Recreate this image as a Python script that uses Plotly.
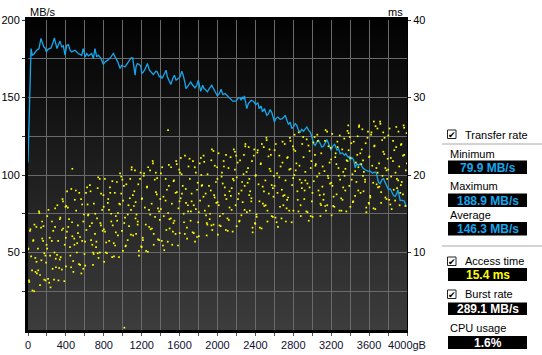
import plotly.graph_objects as go

# ---------------- data ----------------
transfer_gb = [0, 32, 45, 67, 92, 116, 137, 151, 166, 180, 193, 214, 243, 267, 278, 292, 306, 320, 338, 356,
               373, 391, 409, 426, 444, 461, 496, 531, 567, 584, 602, 620, 637, 672, 690, 707, 725, 743, 771, 795,
               813, 841, 876, 901, 919, 947, 972, 989, 1024, 1042, 1067, 1088, 1105, 1119, 1130, 1140, 1154, 1175,
               1190, 1201, 1218, 1236, 1260, 1281, 1306, 1323, 1351, 1365, 1386, 1401, 1415, 1436, 1457, 1471, 1492,
               1507, 1528, 1545, 1563, 1587, 1605, 1623, 1640, 1658, 1668, 1682, 1703, 1717, 1739, 1763, 1781, 1798,
               1809, 1823, 1844, 1858, 1879, 1893, 1914, 1939, 1957, 1975, 1999, 2020, 2038, 2056, 2080, 2098, 2115,
               2133, 2161, 2196, 2221, 2239, 2249, 2263, 2274, 2284, 2299, 2309, 2326, 2355, 2379, 2404, 2426, 2439,
               2461, 2474, 2495, 2520, 2538, 2556, 2573, 2601, 2616, 2637, 2661, 2685, 2714, 2731, 2749, 2767, 2784,
               2802, 2820, 2837, 2855, 2873, 2890, 2908, 2926, 2943, 2961, 2979, 2996, 3014, 3032, 3049, 3067, 3085,
               3102, 3120, 3138, 3155, 3173, 3191, 3200, 3215, 3236, 3250, 3260, 3277, 3295, 3319, 3340, 3355, 3376,
               3390, 3400, 3418, 3436, 3453, 3471, 3489, 3506, 3524, 3541, 3559, 3587, 3612, 3636, 3657, 3672, 3682,
               3699, 3717, 3735, 3752, 3770, 3788, 3805, 3823, 3841, 3858, 3876, 3894, 3904, 3917, 3928, 3952, 3973,
               3988, 4000]
transfer_mbs = [108, 181.6, 177.3, 178.4, 180.5, 181.6, 188.1, 186, 182.7, 182, 179.4, 181.2, 182, 186, 188.5, 184.9,
                181.6, 183.8, 186.4, 182.7, 183.3, 177.3, 183.8, 184.2, 180.5, 179.4, 180.5, 178.4, 177.3, 181.6,
                176.2, 178.4, 176.9, 178.4, 175.2, 181.6, 176.2, 177.3, 175.2, 171.3, 173, 174.1, 176.2, 178.4, 176.2,
                173, 168.7, 170.8, 169.7, 171.3, 173, 175.6, 175.6, 167.6, 164.4, 169.7, 171.9, 171.3, 170.4, 165.5,
                166.5, 168.3, 171.9, 167.6, 165.5, 164.8, 167, 166.5, 163.3, 163.9, 162.3, 164.8, 167.6, 163.3, 159.7,
                158.4, 162.3, 164.4, 161.2, 162.3, 163.3, 167, 163.9, 159, 155.8, 156.8, 159, 160.1, 157.9, 156.2,
                157.9, 161.2, 157.9, 154, 157.9, 155.8, 154.7, 153.6, 155.8, 157.9, 155.8, 153.6, 151, 152.6, 155.3,
                151.9, 152.6, 151.5, 150.4, 149.7, 147.6, 147.6, 149.7, 149.7, 148.2, 150.4, 148.9, 151, 146.1, 142.9,
                146.1, 148.2, 147.6, 145.4, 146.7, 142.9, 144.5, 140.7, 142.9, 138.5, 139.6, 142.2, 140.3, 134.2,
                136.4, 137.4, 135.9, 136.4, 138.5, 135.3, 132.5, 134.2, 129.9, 131, 133.2, 132.1, 128.8, 127.7, 129.5,
                128.2, 129.9, 131, 128.8, 127.7, 124.5, 120.2, 119.1, 121.3, 122.4, 120.2, 118, 118.7, 121.3, 122.8,
                120.2, 118, 115.9, 118.5, 119.8, 118, 115.9, 117, 113.8, 114.2, 112.7, 113.8, 111.6, 112, 109.4,
                111.2, 109.9, 104.7, 107.3, 106.2, 107.3, 105.6, 104.1, 103.4, 102.5, 102.5, 101.2, 101.9, 101.9,
                99.7, 95.4, 94.4, 97, 97.6, 95.4, 92.2, 90.5, 91.1, 88.9, 86.8, 86.2, 88.3, 90.5, 86.8, 83.6, 83.6,
                83.1, 80.3, 79.9]

access_gb_a = [47, 4, 79, 25, 90, 13, 55, 33, 68,
               108, 163, 127, 196, 141, 119, 184, 150, 172,
               286, 238, 202, 260, 216, 293, 229, 275, 253,
               322, 371, 345, 310, 388, 357, 336, 399, 364,
               447, 404, 479, 425, 490, 413, 455, 433, 468,
               508, 563, 527, 596, 541, 519, 584, 550, 572,
               686, 638, 602, 660, 616, 693, 629, 675, 653,
               722, 771, 745, 710, 788, 757, 736, 799, 764,
               847, 804, 879, 825, 890, 813, 855, 833, 868,
               908, 963, 927, 996, 941, 919, 984, 950, 972,
               1086, 1038, 1002, 1060, 1016, 1093, 1029, 1075, 1053,
               1122, 1171, 1145, 1110, 1188, 1157, 1136, 1199, 1164,
               1247, 1204, 1279, 1225, 1290, 1213, 1255, 1233, 1268,
               1308, 1363, 1327, 1396, 1341, 1319, 1384, 1350, 1372,
               1486, 1438, 1402, 1460, 1416, 1493, 1429, 1475, 1453,
               1522, 1571, 1545, 1510, 1588, 1557, 1536, 1599, 1564,
               1647, 1604, 1679, 1625, 1690, 1613, 1655, 1633, 1668,
               1708, 1763, 1727, 1796, 1741, 1719, 1784, 1750, 1772,
               1886, 1838, 1802, 1860, 1816, 1893, 1829, 1875, 1853,
               1922, 1971, 1945, 1910, 1988, 1957, 1936, 1999, 1964,
               2047, 2004, 2079, 2025, 2090, 2013, 2055, 2033, 2068,
               2108, 2163, 2127, 2196, 2141, 2119, 2184, 2150, 2172,
               2286, 2238, 2202, 2260, 2216, 2293, 2229, 2275, 2253,
               2322, 2371, 2345, 2310, 2388, 2357, 2336, 2399, 2364,
               2447, 2404, 2479, 2425, 2490, 2413, 2455, 2433, 2468,
               2508, 2563, 2527, 2596, 2541, 2519, 2584, 2550, 2572,
               2686, 2638, 2602, 2660, 2616, 2693, 2629, 2675, 2653,
               2722, 2771, 2745, 2710, 2788, 2757, 2736, 2799, 2764,
               2847, 2804, 2879, 2825, 2890, 2813, 2855, 2833, 2868,
               2908, 2963, 2927, 2996, 2941, 2919, 2984, 2950, 2972,
               3086, 3038, 3002, 3060, 3016, 3093, 3029, 3075, 3053,
               3122, 3171, 3145, 3110, 3188, 3157, 3136, 3199, 3164,
               3247, 3204, 3279, 3225, 3290, 3213, 3255, 3233, 3268,
               3308, 3363, 3327, 3396, 3341, 3319, 3384, 3350, 3372,
               3486, 3438, 3402, 3460, 3416, 3493, 3429, 3475, 3453,
               3522, 3571, 3545, 3510, 3588, 3557, 3536, 3599, 3564,
               3647, 3604, 3679, 3625, 3690, 3613, 3655, 3633, 3668,
               3708, 3763, 3727, 3796, 3741, 3719, 3784, 3750, 3772,
               3886, 3838, 3802, 3860, 3816, 3893, 3829, 3875, 3853,
               3922, 3971, 3945, 3910, 3988, 3957, 3936, 3999, 3964,
               1017, 1478, 468, 3650, 3380]
access_ms_a = [5.1, 10.5, 7.5, 13.0, 8.8, 6.2, 11.5, 9.5, 13.6,
               7.7, 13.4, 5.8, 11.0, 9.0, 15.1, 6.4, 11.8, 9.9,
               13.3, 5.5, 10.5, 7.9, 15.5, 9.2, 11.9, 6.5, 14.0,
               6.4, 13.1, 9.4, 16.1, 11.0, 7.8, 14.3, 11.9, 16.9,
               9.6, 16.0, 7.5, 13.3, 11.0, 17.9, 8.1, 14.3, 12.1,
               15.4, 7.3, 12.5, 9.8, 17.7, 11.2, 14.0, 8.4, 16.2,
               8.4, 14.9, 11.4, 17.9, 12.9, 9.8, 16.2, 13.8, 18.7,
               11.4, 17.6, 9.3, 15.0, 12.8, 19.5, 9.9, 15.9, 13.8,
               16.9, 8.8, 14.0, 11.3, 19.2, 12.7, 15.5, 9.9, 17.7,
               9.5, 16.3, 12.6, 19.4, 14.1, 10.9, 17.6, 15.1, 20.2,
               12.3, 18.8, 10.2, 16.1, 13.8, 20.7, 10.8, 17.0, 14.9,
               17.9, 9.6, 14.9, 12.2, 20.3, 13.6, 16.5, 10.7, 18.8,
               10.2, 17.0, 13.3, 20.2, 14.9, 11.6, 18.4, 15.8, 21.0,
               13.1, 19.6, 11.0, 16.9, 14.6, 21.5, 11.6, 17.8, 15.7,
               18.6, 10.3, 15.6, 12.9, 21.0, 14.3, 17.2, 11.4, 19.5,
               11.0, 17.8, 14.1, 21.0, 15.7, 12.4, 19.2, 16.6, 21.8,
               13.9, 20.3, 11.8, 17.6, 15.3, 22.2, 12.4, 18.6, 16.4,
               19.5, 11.4, 16.6, 13.9, 21.8, 15.3, 18.1, 12.5, 20.3,
               12.2, 18.7, 15.2, 21.7, 16.7, 13.6, 20.0, 17.6, 22.5,
               15.0, 21.2, 12.9, 18.6, 16.4, 23.1, 13.5, 19.5, 17.4,
               20.3, 12.3, 17.4, 14.7, 22.6, 16.1, 18.9, 13.4, 21.1,
               12.8, 19.5, 15.8, 22.5, 17.3, 14.2, 20.7, 18.3, 23.3,
               15.5, 21.9, 13.4, 19.1, 16.9, 23.7, 14.0, 20.1, 18.0,
               20.9, 12.6, 17.9, 15.2, 23.3, 16.6, 19.5, 13.7, 21.8,
               13.2, 20.0, 16.3, 23.2, 17.9, 14.6, 21.4, 18.8, 24.0,
               16.1, 22.6, 14.0, 19.9, 17.6, 24.5, 14.6, 20.8, 18.7,
               21.6, 13.3, 18.6, 15.9, 24.0, 17.3, 20.2, 14.4, 22.5,
               14.0, 20.8, 17.1, 24.0, 18.7, 15.4, 22.2, 19.6, 24.8,
               16.8, 23.3, 14.7, 20.6, 18.3, 25.2, 15.3, 21.5, 19.4,
               22.3, 14.1, 19.3, 16.6, 24.6, 18.0, 20.9, 15.2, 23.1,
               14.7, 21.4, 17.7, 24.4, 19.2, 16.1, 22.6, 20.2, 25.2,
               17.5, 23.7, 15.4, 21.1, 18.9, 25.6, 16.0, 22.0, 19.9,
               22.8, 14.8, 19.9, 17.2, 25.1, 18.6, 21.4, 15.9, 23.6,
               15.4, 21.9, 18.4, 24.9, 19.9, 16.8, 23.2, 20.8, 25.7,
               18.0, 24.3, 15.9, 21.6, 19.4, 26.2, 16.5, 22.6, 20.5,
               23.3, 15.2, 20.4, 17.7, 25.6, 19.1, 21.9, 16.3, 24.1,
               15.7, 22.4, 18.8, 25.5, 20.3, 17.1, 23.7, 21.2, 26.3,
               18.5, 24.8, 16.4, 22.1, 19.9, 26.6, 16.9, 23.0, 20.9,
               23.6, 15.6, 20.7, 18.1, 26.0, 19.5, 22.2, 16.7, 24.4,
               16.1, 22.6, 19.1, 25.6, 20.6, 17.5, 23.9, 21.5, 26.4,
               0.3, 25.8, 20.8, 26.9, 26.4]

access_gb_b = [1, 11, 21, 43, 57, 65, 77, 88, 94,
               172, 105, 138, 191, 116, 160, 127, 184, 149,
               233, 287, 212, 266, 295, 203, 252, 224, 279,
               358, 329, 396, 307, 341, 383, 318, 370, 335,
               401, 411, 421, 443, 457, 465, 477, 488, 494,
               572, 505, 538, 591, 516, 560, 527, 584, 549,
               633, 687, 612, 666, 695, 603, 652, 624, 679,
               758, 729, 796, 707, 741, 783, 718, 770, 735,
               801, 811, 821, 843, 857, 865, 877, 888, 894,
               972, 905, 938, 991, 916, 960, 927, 984, 949,
               1033, 1087, 1012, 1066, 1095, 1003, 1052, 1024, 1079,
               1158, 1129, 1196, 1107, 1141, 1183, 1118, 1170, 1135,
               1201, 1211, 1221, 1243, 1257, 1265, 1277, 1288, 1294,
               1372, 1305, 1338, 1391, 1316, 1360, 1327, 1384, 1349,
               1433, 1487, 1412, 1466, 1495, 1403, 1452, 1424, 1479,
               1558, 1529, 1596, 1507, 1541, 1583, 1518, 1570, 1535,
               1601, 1611, 1621, 1643, 1657, 1665, 1677, 1688, 1694,
               1772, 1705, 1738, 1791, 1716, 1760, 1727, 1784, 1749,
               1833, 1887, 1812, 1866, 1895, 1803, 1852, 1824, 1879,
               1958, 1929, 1996, 1907, 1941, 1983, 1918, 1970, 1935,
               2001, 2011, 2021, 2043, 2057, 2065, 2077, 2088, 2094,
               2172, 2105, 2138, 2191, 2116, 2160, 2127, 2184, 2149,
               2233, 2287, 2212, 2266, 2295, 2203, 2252, 2224, 2279,
               2358, 2329, 2396, 2307, 2341, 2383, 2318, 2370, 2335,
               2401, 2411, 2421, 2443, 2457, 2465, 2477, 2488, 2494,
               2572, 2505, 2538, 2591, 2516, 2560, 2527, 2584, 2549,
               2633, 2687, 2612, 2666, 2695, 2603, 2652, 2624, 2679,
               2758, 2729, 2796, 2707, 2741, 2783, 2718, 2770, 2735,
               2801, 2811, 2821, 2843, 2857, 2865, 2877, 2888, 2894,
               2972, 2905, 2938, 2991, 2916, 2960, 2927, 2984, 2949,
               3033, 3087, 3012, 3066, 3095, 3003, 3052, 3024, 3079,
               3158, 3129, 3196, 3107, 3141, 3183, 3118, 3170, 3135,
               3201, 3211, 3221, 3243, 3257, 3265, 3277, 3288, 3294,
               3372, 3305, 3338, 3391, 3316, 3360, 3327, 3384, 3349,
               3433, 3487, 3412, 3466, 3495, 3403, 3452, 3424, 3479,
               3558, 3529, 3596, 3507, 3541, 3583, 3518, 3570, 3535,
               3601, 3611, 3621, 3643, 3657, 3665, 3677, 3688, 3694,
               3772, 3705, 3738, 3791, 3716, 3760, 3727, 3784, 3749,
               3833, 3887, 3812, 3866, 3895, 3803, 3852, 3824, 3879,
               3958, 3929, 3996, 3907, 3941, 3983, 3918, 3970, 3935]
access_ms_b = [10.4, 6.4, 12.8, 7.7, 11.6, 5.0, 9.3, 13.3, 7.3,
               6.5, 10.5, 13.2, 8.7, 15.3, 11.5, 7.1, 9.6, 14.0,
               9.6, 15.7, 6.6, 12.8, 8.1, 14.7, 11.5, 6.1, 10.0,
               12.9, 8.0, 15.9, 9.7, 14.5, 6.3, 11.5, 16.6, 9.1,
               8.2, 12.7, 15.8, 10.7, 18.2, 13.9, 8.9, 11.8, 16.8,
               11.5, 18.0, 8.5, 14.9, 10.0, 16.9, 13.5, 7.9, 12.0,
               14.8, 10.0, 17.7, 11.6, 16.3, 8.3, 13.4, 18.4, 11.0,
               10.0, 14.4, 17.4, 12.4, 19.7, 15.5, 10.7, 13.5, 18.3,
               13.0, 19.5, 10.0, 16.4, 11.5, 18.4, 15.0, 9.4, 13.5,
               16.2, 11.2, 19.1, 12.8, 17.7, 9.4, 14.7, 19.8, 12.2,
               10.9, 15.5, 18.6, 13.4, 21.0, 16.7, 11.6, 14.5, 19.5,
               14.0, 20.6, 10.8, 17.4, 12.4, 19.5, 16.0, 10.2, 14.4,
               16.9, 11.9, 19.9, 13.6, 18.5, 10.1, 15.5, 20.6, 13.0,
               11.7, 16.3, 19.4, 14.2, 21.8, 17.5, 12.4, 15.3, 20.3,
               14.7, 21.3, 11.5, 18.1, 13.1, 20.2, 16.7, 10.9, 15.1,
               17.7, 12.7, 20.7, 14.4, 19.3, 10.9, 16.3, 21.4, 13.8,
               12.5, 17.0, 20.1, 15.0, 22.5, 18.2, 13.2, 16.1, 21.1,
               15.6, 22.1, 12.6, 19.0, 14.1, 21.0, 17.6, 12.0, 16.1,
               18.6, 13.8, 21.5, 15.4, 20.1, 12.1, 17.2, 22.2, 14.8,
               13.6, 18.0, 21.0, 16.0, 23.3, 19.1, 14.3, 17.1, 21.9,
               16.5, 22.8, 13.5, 19.8, 15.0, 21.8, 18.4, 12.9, 16.9,
               19.3, 14.4, 22.3, 16.1, 20.9, 12.7, 17.9, 23.0, 15.5,
               14.1, 18.6, 21.6, 16.5, 24.0, 19.7, 14.8, 17.6, 22.6,
               17.0, 23.6, 13.8, 20.4, 15.4, 22.5, 19.0, 13.2, 17.4,
               19.9, 14.9, 22.9, 16.6, 21.5, 13.1, 18.5, 23.6, 16.0,
               14.7, 19.3, 22.4, 17.2, 24.8, 20.5, 15.4, 18.3, 23.3,
               17.7, 24.3, 14.5, 21.1, 16.1, 23.2, 19.7, 13.9, 18.1,
               20.7, 15.7, 23.7, 17.4, 22.3, 13.9, 19.3, 24.4, 16.8,
               15.4, 20.0, 23.1, 17.9, 25.5, 21.2, 16.1, 19.0, 24.0,
               18.4, 24.9, 15.3, 21.8, 16.9, 23.8, 20.4, 14.7, 18.9,
               21.2, 16.3, 24.2, 18.0, 22.8, 14.6, 19.8, 24.9, 17.4,
               16.1, 20.5, 23.5, 18.5, 25.8, 21.6, 16.8, 19.6, 24.4,
               19.0, 25.3, 16.0, 22.3, 17.5, 24.3, 20.9, 15.4, 19.4,
               21.8, 17.0, 24.7, 18.6, 23.3, 15.3, 20.4, 25.4, 18.0,
               16.6, 21.0, 24.1, 19.1, 26.4, 22.2, 17.3, 20.1, 25.0,
               19.4, 25.9, 16.4, 22.8, 17.9, 24.8, 21.4, 15.8, 19.9,
               22.3, 17.3, 25.2, 19.0, 23.8, 15.6, 20.9, 26.0, 18.4,
               17.1, 21.5, 24.5, 19.5, 26.9, 22.7, 17.8, 20.6, 25.5,
               19.8, 26.2, 16.8, 23.2, 18.3, 25.1, 21.8, 16.2, 20.3,
               22.5, 17.7, 25.4, 19.3, 24.0, 16.0, 21.1, 26.1, 18.7]

x_tickvals = list(range(0, 4001, 200))
x_ticktext = ["0", "", "400", "", "800", "", "1200", "", "1600", "", "2000", "", "2400", "", "2800", "",
              "3200", "", "3600", "", "4000gB"]
y_tickvals = [25, 50, 75, 100, 125, 150, 175, 200]
y_ticktext = ["", "50", "", "100", "", "150", "", "200"]
y2_tickvals = [10, 20, 30, 40]
y2_ticktext = ["10", "20", "30", "40"]

stat_labels = ["Minimum", "Maximum", "Average"]
stat_values = ["79.9 MB/s", "188.9 MB/s", "146.3 MB/s"]
access_time_value = "15.4 ms"
burst_rate_value = "289.1 MB/s"
cpu_usage_value = "1.6%"

# ---------------- layout helpers ----------------
W, H = 542, 355
L, R, T, B = 28, 407, 20, 330


def px(x):
    return (x - L) / (R - L)


def py(y):
    return (B - y) / (B - T)


FONT = "Liberation Sans, Arial, sans-serif"
BLUE = "#16a6ec"

fig = go.Figure()

fig.add_trace(go.Scatter(
    x=access_gb_a + access_gb_b, y=access_ms_a + access_ms_b, yaxis="y2", mode="markers",
    marker=dict(symbol="square", size=1.7, color="#ffff00", line=dict(width=0)),
    hoverinfo="skip", showlegend=False))

fig.add_trace(go.Scatter(
    x=transfer_gb, y=transfer_mbs, mode="lines",
    line=dict(color=BLUE, width=1.3), hoverinfo="skip", showlegend=False))

shapes = []
# background gradient
n = 62
for i in range(n):
    t = i / (n - 1)
    g = int(round(2 + t * 58))
    shapes.append(dict(type="rect", xref="paper", yref="paper",
                       x0=0, x1=1, y0=1 - (i + 1) / n, y1=1 - i / n,
                       fillcolor=f"rgb({g},{g},{g})", line=dict(width=0), layer="below"))

annotations = []


def text(x, y, s, size=11, color="black", anchor="left", bold=False):
    annotations.append(dict(x=px(x), y=py(y), xref="paper", yref="paper", text=(f"<b>{s}</b>" if bold else s),
                            showarrow=False, xanchor=anchor, yanchor="middle",
                            font=dict(family=FONT, size=size, color=color)))


def box(y0, y1):
    shapes.append(dict(type="rect", xref="paper", yref="paper", x0=px(448), x1=px(527),
                       y0=py(y1), y1=py(y0), fillcolor="black", line=dict(width=0)))


def checkbox(y0):
    shapes.append(dict(type="rect", xref="paper", yref="paper", x0=px(447.5), x1=px(456),
                       y0=py(y0 + 8.5), y1=py(y0), fillcolor="white", line=dict(color="#222", width=1)))
    text(451.8, y0 + 4.6, "✔", size=9, color="black", anchor="center")


def sep(y):
    shapes.append(dict(type="line", xref="paper", yref="paper", x0=px(442), x1=px(542),
                       y0=py(y), y1=py(y), line=dict(color="#a8a8a8", width=1)))


# axis titles
text(28, 12, "MB/s")
text(405, 12, "ms", anchor="right")

# right panel
checkbox(130)
text(463, 134.5, "Transfer rate")
sep(144)
stat_y = [153.5, 186, 214.5]
box_y = [160.5, 193.5, 222]
for lab, val, ly, by in zip(stat_labels, stat_values, stat_y, box_y):
    text(448, ly, lab)
    box(by, by + 13.5)
    text(487.5, by + 7, val, size=12, color=BLUE, anchor="center", bold=True)
sep(246)
checkbox(257)
text(463, 261, "Access time")
box(268, 281)
text(487.5, 274.5, access_time_value, size=12, color="#ffff00", anchor="center", bold=True)
checkbox(290)
text(463, 294, "Burst rate")
box(302.5, 315)
text(487.5, 308.7, burst_rate_value, size=12, color="white", anchor="center", bold=True)
text(448, 327.5, "CPU usage")
box(336, 349)
text(487.5, 342.5, cpu_usage_value, size=12, color="white", anchor="center", bold=True)

fig.update_layout(
    width=W, height=H,
    margin=dict(l=L, r=W - R, t=T, b=H - B, pad=0, autoexpand=False),
    paper_bgcolor="white", plot_bgcolor="black",
    font=dict(family=FONT, size=11, color="black"),
    shapes=shapes, annotations=annotations,
    xaxis=dict(range=[0, 4000], tickvals=x_tickvals, ticktext=x_ticktext, automargin=False,
               showgrid=True, gridcolor="#6a6a6a", gridwidth=1, zeroline=False,
               showline=True, linecolor="black", linewidth=3, mirror=True,
               ticks="outside", ticklen=3, tickcolor="#555", tickfont=dict(size=11, color="#101030")),
    yaxis=dict(range=[0, 200], tickvals=y_tickvals, ticktext=y_ticktext, automargin=False,
               showgrid=True, gridcolor="#6a6a6a", gridwidth=1, zeroline=False,
               showline=True, linecolor="black", linewidth=3,
               ticks="outside", ticklen=3, tickcolor="#333", tickfont=dict(size=11)),
    yaxis2=dict(range=[0, 40], tickvals=y2_tickvals, ticktext=y2_ticktext, overlaying="y", side="right",
                automargin=False,
                showgrid=False, zeroline=False, showline=True, linecolor="black", linewidth=1,
                ticks="outside", ticklen=3, tickcolor="#333", tickfont=dict(size=11)),
)

fig.write_html("out.html", config={"displayModeBar": False},
               post_script="document.body.style.margin='0';document.body.style.overflow='hidden';")
